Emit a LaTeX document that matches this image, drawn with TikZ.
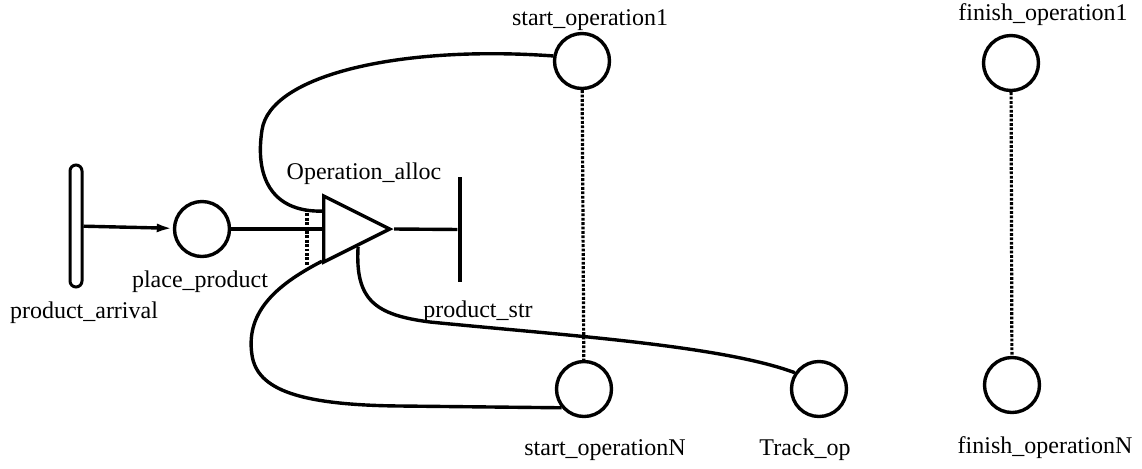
\documentclass[tikz,border=0pt]{standalone}
\usepackage{fontspec}
\setmainfont{Liberation Serif}
\usetikzlibrary{arrows.meta,shapes.geometric,calc}

\begin{document}
\begin{tikzpicture}[
x=0.5pt, y=-0.5pt,
font=\fontsize{12}{14}\selectfont,
place/.style={circle,draw,line width=1.7pt,minimum size=27.5pt,inner sep=0pt},
arc/.style={line width=1.7pt},
dotlink/.style={line width=1.6pt,dash pattern=on 1.4pt off 0.8pt},
>={Latex[length=8pt,width=4.5pt]}
]
    \useasboundingbox (0,0) rectangle (1142,468);

    % Transitions
    \node (arrival) [draw, line width=1.5pt, rounded corners=3pt, minimum width=6pt,
        minimum height=61pt, inner sep=0pt] at (76,226) {};
    \node (outbar) [fill=black, minimum width=2.2pt, minimum height=52.5pt, inner sep=0pt]
        at (460,229.5) {};
    \node (alloc) [isosceles triangle, isosceles triangle stretches, draw, line width=1.7pt,
        minimum width=33pt, minimum height=33pt, inner sep=0pt, anchor=lower side]
        at (322,229) {};

    % Places
    \node (place) [place] at (202,229) {};
    \node (start1) [place] at (582,61) {};
    \node (startN) [place] at (584,389) {};
    \node (track) [place] at (819,389) {};
    \node (finish1) [place] at (1011,63) {};
    \node (finishN) [place] at (1012,385) {};

    % Labels
    \node (arrival-lbl) at (84,313) {product\_arrival};
    \node (place-lbl) at (200,282) {place\_product};
    \node (alloc-lbl) at (364,174) {Operation\_alloc};
    \node (str-lbl) at (478,312) {product\_str};
    \node (start1-lbl) at (590,20) {start\_operation1};
    \node (startN-lbl) at (605,450) {start\_operationN};
    \node (track-lbl) at (805,450) {Track\_op};
    \node (finish1-lbl) at (1043,15) {finish\_operation1};
    \node (finishN-lbl) at (1045,448) {finish\_operationN};

    % Points on the triangle
    \coordinate (alloc-up) at ($(alloc.lower side)!0.5!(alloc.left corner)$);
    \coordinate (alloc-dn) at ($(alloc.lower side)!0.9!(alloc.right corner)$);
    \coordinate (alloc-str) at ($(alloc.apex)!0.5!(alloc.right corner)$);

    % Arcs
    \draw [arc,->] (arrival) -- (place);
    \draw [arc] (place) -- (alloc.lower side);
    \draw [arc] (alloc.apex) -- (outbar);
    \draw [arc] (alloc-up) .. controls (270,212) and (255,175) .. (262,130)
        .. controls (270,75) and (400,45) .. (start1.170);
    \draw [arc] (alloc-dn) .. controls (280,283) and (245,310) .. (252,355)
        .. controls (257,390) and (300,405) .. (400,406) -- (startN.220);
    \draw [arc] (alloc-str) .. controls (355,300) and (375,315) .. (430,322)
        .. controls (560,335) and (720,345) .. (track.146);

    % Dotted links
    \coordinate (bar-top) at (307,209);
    \coordinate (bar-bot) at (307,265);
    \draw [dotlink] (bar-top) -- (bar-bot);
    \draw [dotlink] (start1) -- (startN);
    \draw [dotlink] (finish1) -- (finishN);
\end{tikzpicture}
\end{document}
